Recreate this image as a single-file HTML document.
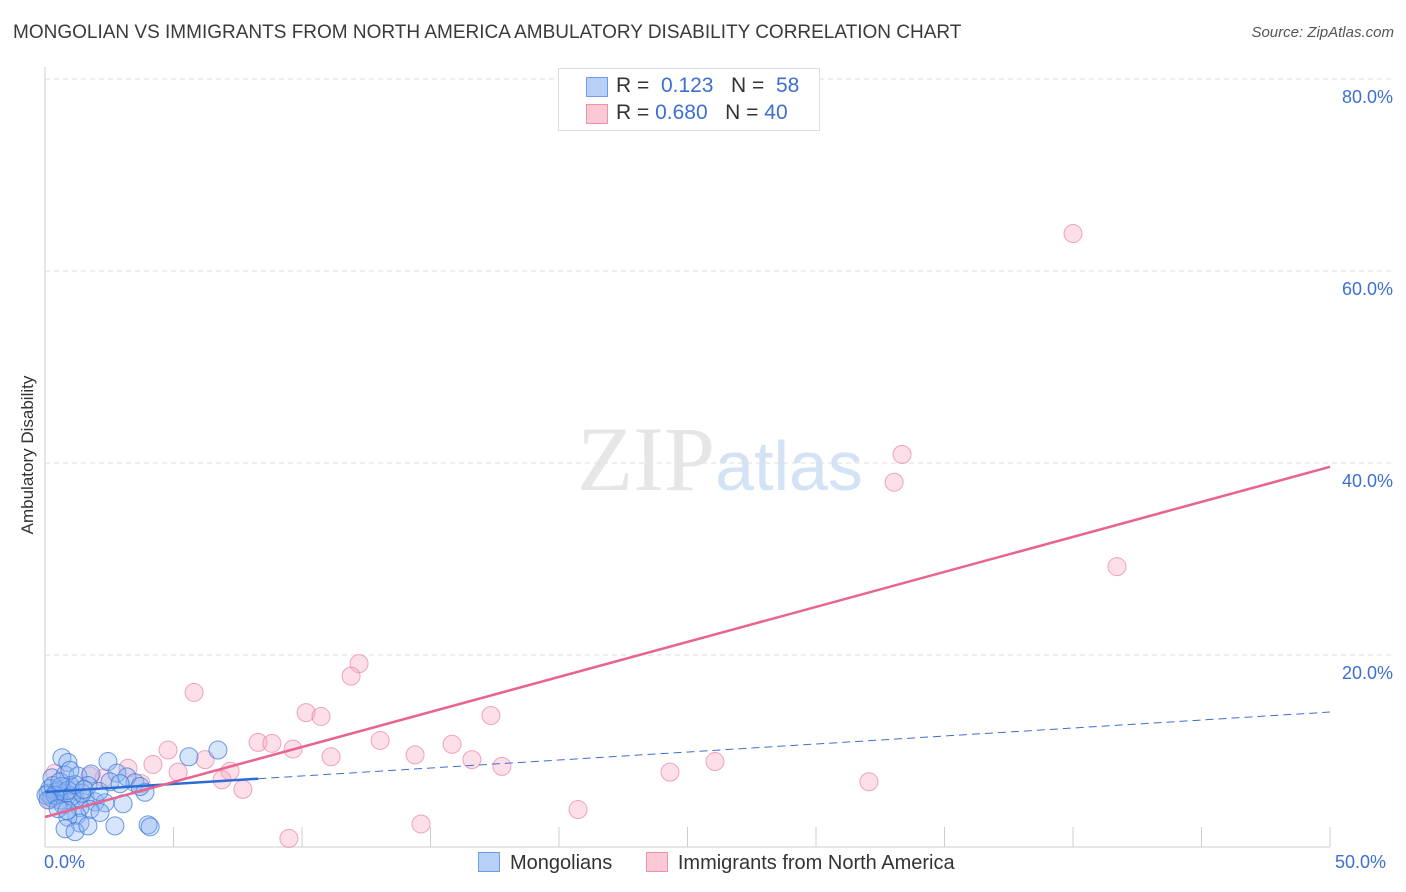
<!DOCTYPE html>
<html><head><meta charset="utf-8"><style>
body{margin:0;background:#fff;font-family:"Liberation Sans",sans-serif;}
#wrap{position:relative;width:1406px;height:892px;overflow:hidden}
.t{position:absolute;white-space:nowrap}
</style></head><body>
<div id="wrap">
<div class="t" style="left:13px;top:22px;font-size:19px;color:#3a3a3a">MONGOLIAN VS IMMIGRANTS FROM NORTH AMERICA AMBULATORY DISABILITY CORRELATION CHART</div>
<div class="t" style="right:12px;top:24px;font-size:15px;color:#555;font-style:italic">Source: ZipAtlas.com</div>
<svg id="svg" width="1406" height="892" style="position:absolute;left:0;top:0"></svg>
</div>
<script>
const yTicks=[20,40,60,80];
const yTickLabels=["20.0%","40.0%","60.0%","80.0%"];
const xTickLabels=["0.0%","50.0%"];
const blueX=[0.66,0.89,2.45,6.73,5.6,0.27,0.78,1.28,1.79,2.8,3.19,3.5,3.89,1.67,0.97,0.51,0.12,0.27,0.58,1.17,1.56,1.95,2.33,3.04,0.7,1.36,1.75,0.19,0.43,0.82,1.05,1.44,0.04,0.31,0.62,0.89,1.17,1.52,2.1,2.53,2.92,3.7,1.24,1.36,0.89,0.78,1.17,1.67,2.72,4.01,4.09,0.39,0.58,0.97,0.12,0.51,0.86,2.14];
const blueY=[9.3,8.8,8.9,10.1,9.4,7.2,7.5,7.4,7.6,7.7,7.3,6.7,5.7,6.4,6.4,5.9,5.6,5.1,4.9,4.9,5.1,4.7,4.6,4.5,4.4,4.1,3.9,6.1,5.7,5.6,5.3,5.6,5.4,6.4,6.3,5.9,6.5,6.0,5.8,6.8,6.6,6.3,3.3,2.5,3.1,1.9,1.6,2.2,2.2,2.3,2.1,5.4,6.8,8.0,4.9,4.0,3.8,3.6];
const pinkX=[40.0,33.35,33.04,41.71,12.22,11.91,5.8,10.16,10.74,17.35,8.29,8.83,4.79,9.65,13.04,15.84,14.4,11.13,6.23,16.61,4.2,17.78,26.07,5.18,7.2,3.23,2.3,24.32,32.06,7.7,3.74,6.89,20.74,14.63,9.49,0.39,1.75,1.17,0.58,0.19];
const pinkY=[63.9,40.9,38.0,29.2,19.1,17.8,16.1,14.0,13.6,13.7,10.9,10.8,10.1,10.2,11.1,10.7,9.6,9.4,9.1,9.1,8.6,8.4,8.9,7.8,7.9,8.2,7.2,7.8,6.8,6.0,6.6,7.0,3.9,2.4,0.9,7.7,7.4,5.9,5.5,4.9];
const blueLine=[5.73,14.06]; const pinkLine=[3.125,39.6]; const blueSolidEnd=8.3;
const X=v=>45+v*25.7, Y=v=>847-v*9.6;
const svg=document.getElementById('svg'),NS='http://www.w3.org/2000/svg';
function mk(t,a){const e=document.createElementNS(NS,t);for(const k in a)e.setAttribute(k,a[k]);svg.appendChild(e);return e;}
yTicks.forEach((v,i)=>{const g=mk('line',{x1:45,x2:1395,y1:Y(v),y2:Y(v),stroke:'#ddd','stroke-dasharray':'5,4'});


const t=mk('text',{x:1393,y:Y(v)+24,'text-anchor':'end','font-size':18,fill:'#3d6fd0','font-family':'Liberation Sans'});t.textContent=yTickLabels[i];

});
const ax=mk('line',{x1:45,x2:45,y1:67,y2:847,stroke:'#ccc'});


const bx=mk('line',{x1:45,x2:1330,y1:847,y2:847,stroke:'#ccc'});


for(let i=1;i<=10;i++){const tk=mk('line',{x1:X(i*5),x2:X(i*5),y1:827,y2:847,stroke:'#ccc'});

}
const wm=mk('text',{x:720,y:490,'text-anchor':'middle','font-size':92,fill:'#e6e6e6','font-family':'Liberation Serif'});wm.innerHTML='ZIP<tspan fill="#d4e2f5" font-family="Liberation Sans" font-size="70">atlas</tspan>';


pinkX.forEach((v,i)=>{const c=mk('circle',{cx:X(v),cy:Y(pinkY[i]),r:9,fill:'rgba(248,176,198,0.4)',stroke:'rgba(232,130,160,0.7)','stroke-width':1});

});
blueX.forEach((v,i)=>{const c=mk('circle',{cx:X(v),cy:Y(blueY[i]),r:9,fill:'rgba(140,180,240,0.35)',stroke:'rgba(60,120,220,0.75)','stroke-width':1});

});
const bl=v=>blueLine[0]+(blueLine[1]-blueLine[0])*v/50;
const l1=mk('line',{x1:X(blueSolidEnd),y1:Y(bl(blueSolidEnd)),x2:X(50),y2:Y(bl(50)),stroke:'#3d6fd0','stroke-width':1,'stroke-dasharray':'8,5'});


const l2=mk('line',{x1:X(0),y1:Y(bl(0)),x2:X(blueSolidEnd),y2:Y(bl(blueSolidEnd)),stroke:'#2b6dd6','stroke-width':2.5});


const l3=mk('line',{x1:X(0),y1:Y(pinkLine[0]),x2:X(50),y2:Y(pinkLine[1]),stroke:'#e8638f','stroke-width':2.5});


</script>
<div class="t" style="left:44px;top:852px;font-size:18px;color:#3d6fd0">0.0%</div>
<div class="t" style="left:1335px;top:852px;font-size:18px;color:#3d6fd0">50.0%</div>
<div class="t" style="left:28px;top:455px;font-size:17px;color:#333;transform:translate(-50%,-50%) rotate(-90deg)">Ambulatory Disability</div>
<div style="position:absolute;left:558px;top:68px;width:260px;height:61px;border:1px solid #ddd;background:#fff;font-size:21px;color:#333">
 <div style="position:absolute;left:27px;top:8px;width:20px;height:18px;background:#b7d0f5;border:1px solid #6f9ee6"></div>
 <div class="t" style="left:57px;top:5px">R = &nbsp;<span style="color:#3d6fd0">0.123</span>&nbsp;&nbsp; N = &nbsp;<span style="color:#3d6fd0">58</span></div>
 <div style="position:absolute;left:27px;top:35px;width:20px;height:18px;background:#fbc8d6;border:1px solid #ec93ae"></div>
 <div class="t" style="left:57px;top:32px">R = <span style="color:#3d6fd0">0.680</span>&nbsp;&nbsp; N = <span style="color:#3d6fd0">40</span></div>
</div>
<div style="position:absolute;left:478px;top:852px;font-size:20px;color:#333">
 <span style="display:inline-block;width:20px;height:18px;background:#b7d0f5;border:1px solid #6f9ee6;vertical-align:-3px"></span><span style="margin-left:10px">Mongolians</span>
 <span style="display:inline-block;width:20px;height:18px;background:#fbc8d6;border:1px solid #ec93ae;vertical-align:-3px;margin-left:28px"></span><span style="margin-left:10px">Immigrants from North America</span>
</div>
</body></html>
